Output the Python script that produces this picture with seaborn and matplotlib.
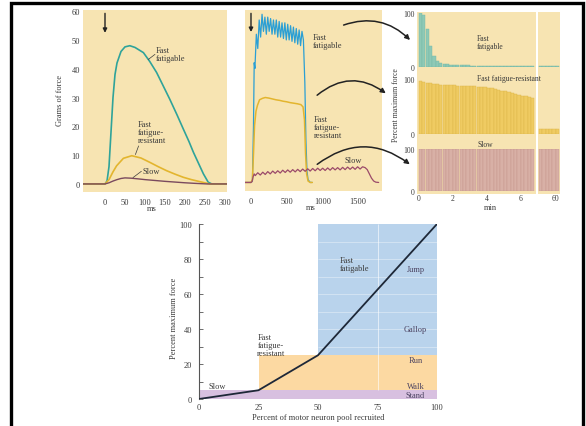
import seaborn as sns
import matplotlib.pyplot as plt
from matplotlib.patches import FancyArrowPatch, Rectangle

# ---- panel A: single twitch, grams of force vs ms ----
twitch_ff_ms = [-55, 0, 5, 10, 15, 20, 25, 30, 40, 50, 62, 75, 96, 112, 129, 145,
                162, 180, 196, 210, 221, 235, 246, 258, 267, 305]
twitch_ff = [0, 0, 1, 6, 18, 30, 38, 42, 46, 47.6, 48, 47.4, 45.6, 42.5, 38.7, 34.2,
             29.4, 24, 19, 14.7, 11, 6.8, 3.5, 0.6, 0, 0]
twitch_ffr_ms = [-55, 0, 10, 20, 29, 46, 67, 90, 112, 133, 154, 175, 196, 216, 237, 262, 305]
twitch_ffr = [0, 0, 1.5, 4.2, 6.3, 8.9, 9.8, 9.0, 7.5, 6.0, 4.6, 3.4, 2.3, 1.5, 0.8, 0, 0]
twitch_slow_ms = [-55, 0, 10, 20, 30, 40, 50, 65, 80, 100, 125, 150, 175, 200, 225, 255, 305]
twitch_slow = [0, 0, 0.4, 1.0, 1.5, 1.9, 2.1, 2.0, 1.8, 1.5, 1.2, 0.9, 0.65, 0.4, 0.2, 0, 0]

# ---- panel B: tetanus vs ms ----
tet_ff_ms = [-84, 0, 20, 35, 45, 55, 75, 95, 115, 135, 155, 175, 195, 215, 235, 255, 275,
             295, 315, 335, 355, 375, 395, 415, 435, 455, 475, 495, 515, 535, 555, 575,
             595, 615, 635, 655, 675, 695, 715, 735, 755, 770, 785, 800, 830, 860]
tet_ff = [0, 0, 0.5, 20, 42, 40, 52, 47, 57, 51, 59, 53, 58, 52, 58, 53, 57.5,
          52, 57, 52, 57, 51, 56.5, 51, 56, 50.5, 56, 50, 55.5, 50, 55, 49.5,
          54.5, 49, 54, 48.5, 53.5, 48, 53, 50, 35, 15, 4, 1, 0, 0]
tet_ffr_ms = [-84, 0, 20, 35, 50, 70, 90, 120, 160, 200, 250, 300, 350, 400, 450, 500,
              550, 600, 650, 700, 730, 750, 765, 780, 800, 830, 860]
tet_ffr = [0, 0, 1, 10, 20, 25, 27, 29, 29.5, 29.8, 29.6, 29.3, 29, 28.8, 28.5, 28.3,
           28, 27.8, 27.6, 27.3, 26.5, 22, 10, 3, 0.5, 0, 0]
tet_slow_ms = [-84, 0, 15, 30, 45, 60, 95, 130, 165, 200, 235, 270, 305, 340, 375, 410,
               445, 480, 515, 550, 585, 620, 655, 690, 725, 760, 795, 830, 865, 900, 935,
               970, 1005, 1040, 1075, 1110, 1145, 1180, 1215, 1250, 1285, 1320, 1355,
               1390, 1425, 1460, 1495, 1530, 1565, 1600, 1630, 1660, 1690, 1720, 1750, 1790]
tet_slow = [0, 0, 0.3, 2.0, 3.0, 2.4, 3.4, 2.6, 3.6, 2.8, 3.8, 3.0, 4.0, 3.2, 4.1, 3.3,
            4.3, 3.5, 4.4, 3.6, 4.5, 3.7, 4.6, 3.8, 4.7, 3.9, 4.8, 4.0, 4.9, 4.1, 5.0,
            4.2, 5.0, 4.2, 5.1, 4.3, 5.2, 4.4, 5.2, 4.4, 5.3, 4.5, 5.4,
            4.6, 5.4, 4.6, 5.5, 4.7, 5.5, 5.2, 4.5, 3.0, 1.5, 0.5, 0.1, 0]

# ---- panel C: fatigue, percent maximum force vs min ----
fat_min = [0.1, 0.3, 0.5, 0.7, 0.9, 1.1, 1.3, 1.5, 1.7, 1.9, 2.1, 2.3, 2.5, 2.7, 2.9, 3.1, 3.3,
           3.5, 3.7, 3.9, 4.1, 4.3, 4.5, 4.7, 4.9, 5.1, 5.3, 5.5, 5.7, 5.9, 6.1, 6.3, 6.5, 6.7]
fat_ff = [100, 96, 70, 38, 20, 12, 8, 6, 5, 4.5, 4, 3.5, 3.2, 3, 2.8, 2.7, 2.6,
          2.5, 2.4, 2.3, 2.2, 2.2, 2.1, 2.0, 2.0, 1.9, 1.9, 1.8, 1.8, 1.7, 1.7, 1.6, 1.6, 1.5]
fat_ffr = [97, 95, 93, 92, 91, 90.5, 90, 89.5, 89, 89, 88.5, 88, 88, 87.5, 87, 87, 86.5,
           86, 85.5, 85, 84, 83, 82, 80.5, 79, 77.5, 76, 74.5, 73, 71.5, 70, 68.5, 67, 65.5]
fat_slow = [100, 100, 100, 100, 100, 100, 100, 100, 100, 100, 100, 100, 100, 100, 100, 100, 100,
            100, 100, 100, 100, 100, 100, 100, 100, 100, 100, 100, 100, 100, 100, 100, 100, 100]
late_min = [59.1, 59.3, 59.5, 59.7, 59.9, 60.1]
late_ff = [1.2, 1.2, 1.2, 1.2, 1.2, 1.2]
late_ffr = [9, 9, 9, 9, 9, 9]
late_slow = [100, 100, 100, 100, 100, 100]

# ---- panel D: recruitment ----
recruit_pct = [0, 25, 50, 100]
force_pct = [0, 5, 25, 100]
unit_types = ["Slow", "Fast\nfatigue-\nresistant", "Fast\nfatigable"]
unit_x_start = [0, 25, 50]
unit_y_low = [0, 5, 25]
unit_y_high = [5, 25, 100]
gaits = ["Stand", "Walk", "Run", "Gallop", "Jump"]
gait_force = [2.3, 7.6, 22.5, 40, 74]

BG = "#f7e4b2"
TXT = "#3a3a3a"
C_FF = "#2fa39a"
C_FFB = "#2b9fd4"
C_FFR = "#e3b52e"
C_SLOW = "#7a4a5e"
C_SLOWB = "#9b4a6a"

sns.set_style("white")
plt.rcParams["font.family"] = ["Liberation Serif", "DejaVu Serif"]
plt.rcParams["font.size"] = 6

W, H = 586, 427
fig = plt.figure(figsize=(W / 100, H / 100), dpi=100)


def px_axes(x0, y0, x1, y1):
    return fig.add_axes([x0 / W, 1 - y1 / H, (x1 - x0) / W, (y1 - y0) / H])


def fxy(x, y):
    return x / W, 1 - y / H


def clean(ax):
    for s in ax.spines.values():
        s.set_visible(False)
    ax.tick_params(length=0, labelsize=6, colors=TXT)
    ax.set_xlabel("")
    ax.set_ylabel("")


# ---------- A ----------
axA = px_axes(83, 11, 227, 193)
axA.set_facecolor(BG)
sns.lineplot(x=twitch_ff_ms, y=twitch_ff, ax=axA, color=C_FF, lw=1.2, estimator=None)
sns.lineplot(x=twitch_ffr_ms, y=twitch_ffr, ax=axA, color=C_FFR, lw=1.2, estimator=None)
sns.lineplot(x=twitch_slow_ms, y=twitch_slow, ax=axA, color=C_SLOW, lw=1.0, estimator=None)
axA.set_xlim(-55, 305)
axA.set_ylim(-2.8, 60.4)
axA.set_xticks([0, 50, 100, 150, 200, 250, 300])
axA.set_yticks([0, 10, 20, 30, 40, 50, 60])
clean(axA)
axA.tick_params(axis="y", pad=2)
axA.tick_params(axis="x", pad=4)
axA.annotate("", xy=(0, 51.5), xytext=(0, 60.2),
             arrowprops=dict(arrowstyle="-|>", color="#222", lw=1.0, mutation_scale=6))
axA.text(127, 45, "Fast\nfatigable", ha="left", va="center", fontsize=6, color=TXT, linespacing=1.0)
axA.plot([125, 108], [45, 43.2], color=TXT, lw=0.5)
axA.text(81, 18, "Fast\nfatigue-\nresistant", ha="left", va="center", fontsize=6, color=TXT, linespacing=1.0)
axA.plot([84, 76], [13.2, 10.2], color=TXT, lw=0.5)
axA.text(94, 4.6, "Slow", ha="left", va="center", fontsize=6, color=TXT)
axA.plot([91, 70], [4.4, 2.2], color=TXT, lw=0.5)
fig.text(*fxy(152, 209), "ms", ha="center", va="center", fontsize=6, color=TXT)
fig.text(*fxy(60, 100), "Grams of force", ha="center", va="center", rotation=90, fontsize=6, color=TXT)

# ---------- B ----------
axB = px_axes(245, 11, 382, 192)
axB.set_facecolor(BG)
sns.lineplot(x=tet_ff_ms, y=tet_ff, ax=axB, color=C_FFB, lw=0.9, estimator=None)
sns.lineplot(x=tet_ffr_ms, y=tet_ffr, ax=axB, color=C_FFR, lw=1.1, estimator=None)
sns.lineplot(x=tet_slow_ms, y=tet_slow, ax=axB, color=C_SLOWB, lw=0.9, estimator=None)
axB.set_xlim(-84, 1837)
axB.set_ylim(-3, 60.5)
axB.set_xticks([0, 500, 1000, 1500])
axB.set_yticks([])
clean(axB)
axB.tick_params(axis="x", pad=4)
axB.annotate("", xy=(0, 51.8), xytext=(0, 60.3),
             arrowprops=dict(arrowstyle="-|>", color="#222", lw=1.0, mutation_scale=6))
axB.text(870, 49.6, "Fast\nfatigable", ha="left", va="center", fontsize=6, color=TXT, linespacing=1.0)
axB.text(884, 19.6, "Fast\nfatigue-\nresistant", ha="left", va="center", fontsize=6, color=TXT, linespacing=1.0)
axB.text(1430, 7.8, "Slow", ha="center", va="center", fontsize=6, color=TXT)
fig.text(*fxy(311, 208), "ms", ha="center", va="center", fontsize=6, color=TXT)

# ---------- C ----------
for x0, x1 in [(417, 536), (538, 560)]:
    bg = px_axes(x0, 13, x1, 195)
    bg.set_facecolor(BG)
    bg.set_xticks([])
    bg.set_yticks([])
    for s in bg.spines.values():
        s.set_visible(False)

rows = [((14, 68), fat_ff, late_ff, "#8ec9b6", "#74b8a4"),
        ((80, 135), fat_ffr, late_ffr, "#efcb62", "#dcb548"),
        ((150, 192), fat_slow, late_slow, "#d8b0a6", "#c5958c")]
for i, ((y0, y1), vals, late_vals, col, edge) in enumerate(rows):
    axL = px_axes(417, y0, 536, y1)
    axR = px_axes(538, y0, 560, y1)
    for ax in (axL, axR):
        ax.set_facecolor("none")
        ax.set_ylim(0, 100)
        clean(ax)
        ax.tick_params(labelsize=5.5)
    axL.bar(fat_min, vals, width=0.2, color=col, edgecolor=edge, linewidth=0.3)
    axR.bar(late_min, late_vals, width=0.2, color=col, edgecolor=edge, linewidth=0.3)
    axL.set_xlim(-0.1, 6.9)
    axR.set_xlim(58.95, 60.25)
    axL.set_yticks([0, 100])
    axL.tick_params(axis="y", pad=2)
    axR.set_yticks([])
    if i == 2:
        axL.set_xticks([0, 2, 4, 6])
        axR.set_xticks([60])
        axL.tick_params(axis="x", pad=2)
        axR.tick_params(axis="x", pad=2)
    else:
        axL.set_xticks([])
        axR.set_xticks([])

fig.text(*fxy(477, 43), "Fast\nfatigable", ha="left", va="center", fontsize=5.5, color=TXT, linespacing=1.0)
fig.text(*fxy(477, 79), "Fast fatigue-resistant", ha="left", va="center", fontsize=5.5, color=TXT)
fig.text(*fxy(477, 145), "Slow", ha="left", va="center", fontsize=5.5, color=TXT)
fig.text(*fxy(490, 208), "min", ha="center", va="center", fontsize=6, color=TXT)
fig.text(*fxy(396, 105), "Percent maximum force", ha="center", va="center", rotation=90, fontsize=5.5, color=TXT)

# curved arrows from B to C
for (xa, ya), (xb, yb), rad in [((341, 27), (412, 43), -0.33),
                                ((315, 98), (388, 96), -0.41),
                                ((315, 167), (412, 167), -0.39)]:
    arr = FancyArrowPatch(fxy(xa, ya), fxy(xb, yb), transform=fig.transFigure,
                          connectionstyle=f"arc3,rad={rad}", arrowstyle="-|>",
                          mutation_scale=7, lw=1.1, color="#222")
    fig.add_artist(arr)

# ---------- D ----------
axD = px_axes(199, 225, 437, 400)
region_colors = ["#d8c0e0", "#fcd9a2", "#b9d3ec"]
for xs, lo, hi, c in zip(unit_x_start, unit_y_low, unit_y_high, region_colors):
    axD.fill_between([xs, 100], lo, hi, color=c, lw=0, zorder=0.5)
axD.hlines([30, 40, 50, 60, 70, 80, 90], 50, 100, color="white", lw=0.5, alpha=0.5, zorder=0.6)
axD.vlines([75], 5, 100, color="white", lw=0.7, alpha=0.6, zorder=0.6)
sns.lineplot(x=recruit_pct, y=force_pct, ax=axD, color="#1e2838", lw=1.3, estimator=None, zorder=3)
axD.set_xlim(0, 100)
axD.set_ylim(0, 100)
axD.set_xticks([0, 25, 50, 75, 100])
axD.set_yticks([0, 20, 40, 60, 80, 100])
axD.set_yticks([10, 30, 50, 70, 90], minor=True)
for k in ["top", "right", "bottom"]:
    axD.spines[k].set_visible(False)
axD.spines["left"].set_color("#555")
axD.spines["left"].set_linewidth(0.8)
axD.tick_params(axis="x", length=0, labelsize=6, colors=TXT, pad=3)
axD.tick_params(axis="y", which="both", direction="in", length=3, width=0.6,
                color="#555", labelsize=6, labelcolor=TXT, pad=5, left=True)
axD.set_xlabel("")
axD.set_ylabel("")
axD.text(4, 7.2, unit_types[0], ha="left", va="center", fontsize=6, color=TXT)
axD.text(24.5, 31, unit_types[1], ha="left", va="center", fontsize=6, color=TXT, linespacing=1.0)
axD.text(59, 77, unit_types[2], ha="left", va="center", fontsize=6, color=TXT, linespacing=1.0)
for g, f in zip(gaits, gait_force):
    axD.text(91, f, g, ha="center", va="center", fontsize=6, color="#4a4260")
fig.text(*fxy(318, 418), "Percent of motor neuron pool recruited", ha="center", va="center", fontsize=6, color=TXT)
fig.text(*fxy(174, 318), "Percent maximum force", ha="center", va="center", rotation=90, fontsize=6, color=TXT)

# page frame
fig.add_artist(Rectangle(fxy(11, 440), 571.5 / W, 436 / H, transform=fig.transFigure,
                         fill=False, lw=2.4, edgecolor="black"))

fig.savefig("out.png", dpi=100)
plt.close(fig)
